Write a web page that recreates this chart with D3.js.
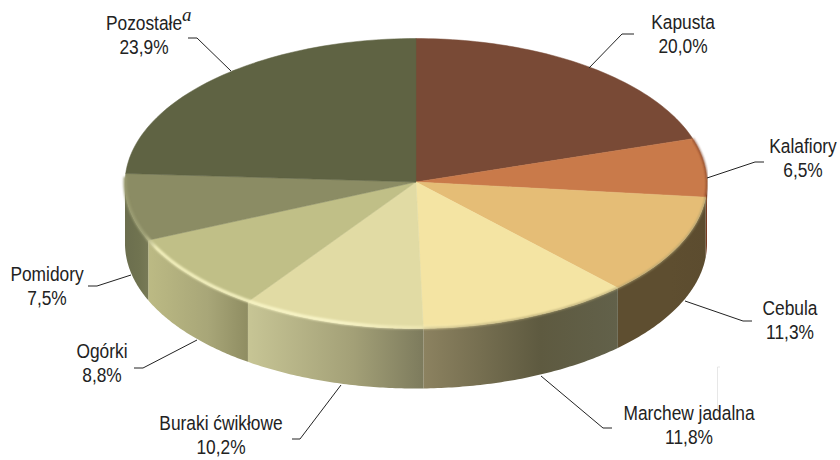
<!DOCTYPE html>
<html>
<head>
<meta charset="utf-8">
<script src="https://cdn.jsdelivr.net/npm/d3@7"></script>
<style>
  html, body { margin: 0; padding: 0; background: #fff; }
  text { font-family: "Liberation Sans", Arial, sans-serif; font-size: 19.5px; fill: #222; }
</style>
</head>
<body>
<svg id="chart" width="840" height="460"></svg>
<script>
var categories = ["Kapusta", "Kalafiory", "Cebula", "Marchew jadalna", "Buraki ćwikłowe", "Ogórki", "Pomidory", "Pozostałe"];
var shares = [20.0, 6.5, 11.3, 11.8, 10.2, 8.8, 7.5, 23.9];
var shareLabels = ["20,0%", "6,5%", "11,3%", "11,8%", "10,2%", "8,8%", "7,5%", "23,9%"];
var topColors = ["#794a36", "#c97a4a", "#e5bd76", "#f4e4a3", "#e1dba4", "#c0bf87", "#8b8c64", "#5f6343"];
var sideColors = [
  ["#5a3a28", "#5a3a28", "#5a3a28"],
  ["#7a3a20", "#7a3a20", "#6b3a20"],
  ["#5e4e30", "#5e4e30", "#5c4c2f"],
  ["#8c8260", "#5e5a40", "#62614a"],
  ["#c7c595", "#a3a077", "#7d7b5d"],
  ["#bcba84", "#a8a678", "#8f8d62"],
  ["#6b6e4e", "#707350", "#787a57"],
  ["#6c6f4f", "#6c6f4f", "#6c6f4f"]
];
var labelPos = [
  [683, 29], [803, 153], [790, 315],
  [689, 420], [221, 430], [102, 358],
  [47, 281], [144, 30]
];
var leaderPts = [
  [[634, 34], [622, 34], [589, 68]],
  [[764, 162], [755, 162], [707, 178]],
  [[685, 301], [743, 321], [752, 321]],
  [[612, 428], [603, 428], [541, 376]],
  [[292, 439], [300, 439], [341, 385]],
  [[134, 368], [143, 368], [197, 340]],
  [[88, 286], [97, 286], [131, 275]],
  [[188, 38], [197, 38], [231, 71]]
];

var cx = 416, cy = 183.5, rx = 291, ry = 145, depth = 60, apexLift = 1.5;

var svg = d3.select("#chart");
var defs = svg.append("defs");

var x = d3.scaleLinear().domain([-1, 1]).range([cx - rx, cx + rx]);
var y = d3.scaleLinear().domain([-1, 1]).range([cy - ry, cy + ry]);

defs.append("filter").attr("id", "soft")
  .attr("x", "-5%").attr("y", "-5%").attr("width", "110%").attr("height", "110%")
  .append("feGaussianBlur").attr("stdDeviation", 0.8);

var pie = d3.pie().sort(null).value(function (d) { return d; });
var arcs = pie(shares);

function arcPoints(a0, a1, dy) {
  return d3.range(0, 61).map(function (i) {
    var t = a0 + (a1 - a0) * i / 60;
    return [x(Math.sin(t)), y(-Math.cos(t)) + dy];
  });
}
var line = d3.line();

// side wall, only the part facing the viewer
arcs.forEach(function (d, i) {
  var a0 = Math.max(d.startAngle, Math.PI / 2);
  var a1 = Math.min(d.endAngle, Math.PI * 1.5);
  if (a1 <= a0) return;
  var x0 = x(Math.sin(a0)), x1 = x(Math.sin(a1));
  var gid = "side" + i;
  var g = defs.append("linearGradient").attr("id", gid)
    .attr("gradientUnits", "userSpaceOnUse")
    .attr("x1", Math.min(x0, x1)).attr("x2", Math.max(x0, x1)).attr("y1", 0).attr("y2", 0);
  g.append("stop").attr("offset", 0).attr("stop-color", sideColors[i][0]);
  g.append("stop").attr("offset", 0.6).attr("stop-color", sideColors[i][1]);
  g.append("stop").attr("offset", 1).attr("stop-color", sideColors[i][2]);
  var top = arcPoints(a0, a1, 0);
  var bottom = arcPoints(a1, a0, depth);
  svg.append("path")
    .attr("d", line(top.concat(bottom)) + "Z")
    .attr("fill", "url(#" + gid + ")");
});

// top face
arcs.forEach(function (d, i) {
  var pts = [[x(0), y(0) - apexLift]].concat(arcPoints(d.startAngle, d.endAngle, 0));
  svg.append("path")
    .attr("d", line(pts) + "Z")
    .attr("fill", topColors[i])
    .attr("stroke", topColors[i])
    .attr("stroke-width", 0.5);
});

// soft edge where the lit top meets the dark wall
svg.append("path")
  .attr("d", line(arcPoints(arcs[2].startAngle, arcs[3].endAngle, 0)))
  .attr("fill", "none")
  .attr("stroke", "#a89c6c")
  .attr("stroke-width", 1.5)
  .attr("filter", "url(#soft)");
svg.append("path")
  .attr("d", line(arcPoints(arcs[1].startAngle, arcs[1].endAngle, 0)))
  .attr("fill", "none")
  .attr("stroke", "#7a3a20")
  .attr("stroke-width", 1.5)
  .attr("filter", "url(#soft)");

// pale bevel on the lighter slices
var rimGrad = defs.append("linearGradient").attr("id", "rim")
  .attr("gradientUnits", "userSpaceOnUse")
  .attr("x1", x(-1)).attr("x2", x(0.35)).attr("y1", 0).attr("y2", 0);
rimGrad.append("stop").attr("offset", 0).attr("stop-color", "#98996f");
rimGrad.append("stop").attr("offset", 0.05).attr("stop-color", "#a0a278");
rimGrad.append("stop").attr("offset", 0.08).attr("stop-color", "#f6f3bf");
rimGrad.append("stop").attr("offset", 0.55).attr("stop-color", "#fbf8cc");
rimGrad.append("stop").attr("offset", 1).attr("stop-color", "#f4e9ae").attr("stop-opacity", 0);
svg.append("path")
  .attr("d", line(arcPoints(arcs[3].startAngle + 0.35, arcs[6].endAngle - 0.03, -1)))
  .attr("fill", "none")
  .attr("stroke", "url(#rim)")
  .attr("stroke-width", 3)
  .attr("filter", "url(#soft)");

// leaders
svg.selectAll(".leader").data(leaderPts).enter().append("path")
  .attr("class", "leader")
  .attr("d", function (d) { return line(d); })
  .attr("fill", "none")
  .attr("stroke", "#222")
  .attr("stroke-width", 1);

// stray hairline that sits above the Marchew label in the source
svg.append("path")
  .attr("d", line([[720, 367], [717.5, 367], [717.5, 413]]))
  .attr("fill", "none")
  .attr("stroke", "#dcdcdc")
  .attr("stroke-width", 0.7);

// labels, squeezed sideways like the narrow face of the source
var labels = svg.selectAll(".label").data(categories).enter().append("text")
  .attr("class", "label")
  .attr("text-anchor", "middle")
  .attr("transform", function (d, i) {
    return "translate(" + labelPos[i][0] + "," + labelPos[i][1] + ") scale(0.89,1)";
  });
labels.append("tspan").text(function (d) { return d; });
labels.append("tspan")
  .attr("x", 0)
  .attr("dy", 24.5)
  .text(function (d, i) { return shareLabels[i]; });

svg.append("text")
  .attr("x", 182).attr("y", 21)
  .style("font-family", "'Liberation Serif', serif")
  .style("font-style", "italic")
  .style("font-size", "19px")
  .text("a");
</script>
</body>
</html>
